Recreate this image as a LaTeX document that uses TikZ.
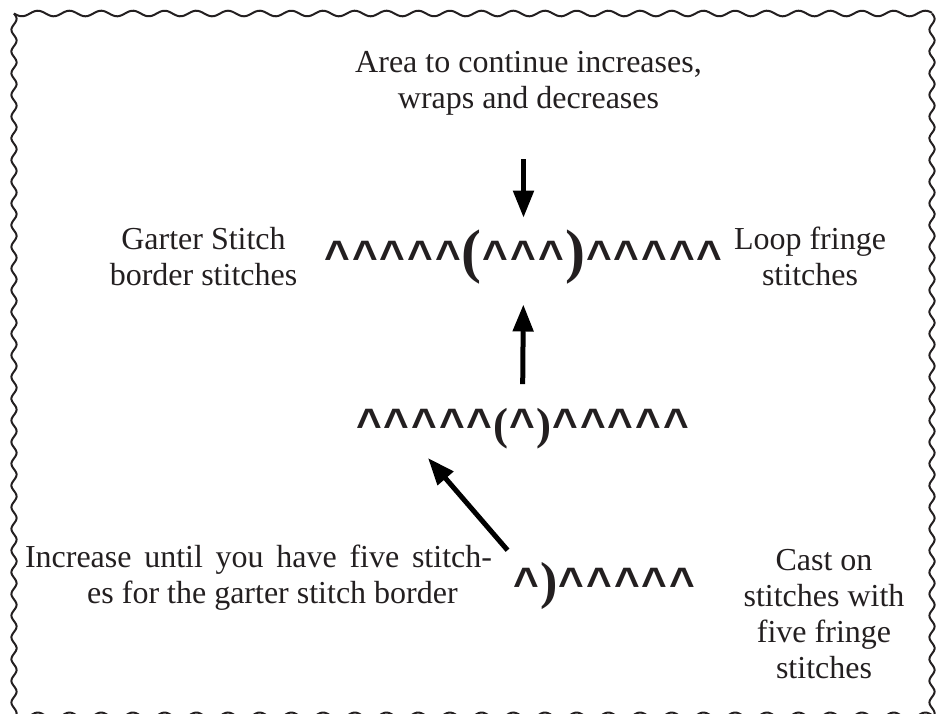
\documentclass[tikz,border=0pt]{standalone}
\usepackage{fontspec}
\setmainfont{Liberation Serif}
\newfontfamily\caretfont{Liberation Sans}
\usetikzlibrary{arrows.meta}
\definecolor{ink}{RGB}{35,31,32}
\newcommand\crt{\kern1pt{\caretfont\bfseries\fontsize{44pt}{44pt}\selectfont\textasciicircum}\kern1pt}
\newcommand\bigp[2]{{\fontsize{#1}{#1}\selectfont\bfseries #2}}
\begin{document}
\begin{tikzpicture}[x=1pt,y=-1pt,
  lbl/.style={font=\fontsize{32pt}{36pt}\selectfont, align=center, inner sep=0pt, anchor=base, text=ink},
  row/.style={inner sep=0pt, anchor=base, text=ink},
  arr/.style={draw=black, line width=5pt, -{Triangle[length=27pt,width=20pt]}},
  border/.style={draw=ink, line width=2pt}]
\useasboundingbox (0,0) rectangle (943,713);
% wavy border
\draw[border] plot[domain=14:932, samples=400] (\x, {13.5+2.8*sin(11.3565*(\x-14))});
\draw[border] plot[domain=13.5:720, samples=400] ({14+2.6*sin(16.59*(\x-13.5))}, \x);
\draw[border] plot[domain=13.5:720, samples=400] ({932+2.6*sin(16.59*(\x-13.5))}, \x);
\draw[border] plot[domain=14:932, samples=400] (\x, {716+3.5*sin(11.3565*(\x-14))});
% labels (anchor = baseline of last line)
\node[lbl] (top) at (528.5,108) {Area to continue increases,\\wraps and decreases};
\node[lbl] (garter) at (203.5,285) {Garter Stitch\\border stitches};
\node[lbl] (loop) at (810,285) {Loop fringe\\stitches};
\node[lbl] (incr) at (258.5,603) {\makebox[467pt][s]{Increase until you have five stitch-}\\\hspace*{28pt}es for the garter stitch border};
\node[lbl] (cast) at (824,678) {Cast on\\stitches with\\five fringe\\stitches};
% stitch rows
\node[row] (row1) at (523.5,271.5) {\crt\crt\crt\crt\crt\bigp{60pt}{(}\crt\crt\crt\bigp{60pt}{)}\crt\crt\crt\crt\crt};
\node[row] (row2) at (522.5,439.5) {\crt\crt\crt\crt\crt\bigp{45pt}{(}\crt\bigp{45pt}{)}\crt\crt\crt\crt\crt};
\node[row] (row3) at (604.5,598.5) {\crt\bigp{52pt}{)}\crt\crt\crt\crt\crt};
% arrows
\coordinate (incTip) at (428,458);
\draw[arr, shorten <=44pt, shorten >=12pt] (top.south -| row1.north) -- (row1.north);
\draw[arr, shorten <=24pt, shorten >=20pt] (row2.north) -- (row1.south);
\draw[arr] ([shift={(-5pt,12pt)}]row3.north west) -- (incTip);
\end{tikzpicture}
\end{document}
